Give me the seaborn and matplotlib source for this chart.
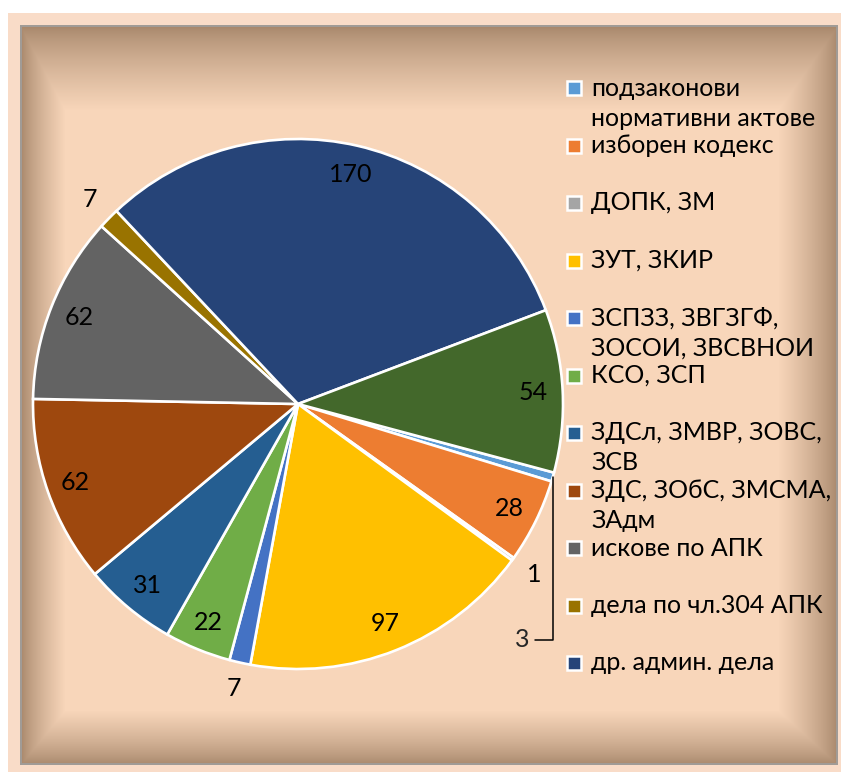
import numpy as np
import matplotlib
matplotlib.use("Agg")
import matplotlib.pyplot as plt
import seaborn as sns

# data, in wedge order (clockwise)
values = [3, 28, 1, 97, 7, 22, 31, 62, 62, 7, 170, 54]
colors = ['#5B9BD5', '#ED7D31', '#A5A5A5', '#FFC000', '#4472C4', '#70AD47',
          '#255E91', '#9E480E', '#636363', '#997300', '#264478', '#43682B']
# legend entries (the 12th, dark green slice has no visible legend entry)
legend_labels = ['подзаконови\nнормативни актове', 'изборен кодекс', 'ДОПК, ЗМ',
                 'ЗУТ, ЗКИР', 'ЗСПЗЗ, ЗВГЗГФ,\nЗОСОИ, ЗВСВНОИ', 'КСО, ЗСП',
                 'ЗДСл, ЗМВР, ЗОВС,\nЗСВ', 'ЗДС, ЗОбС, ЗМСМА,\nЗАдм', 'искове по АПК',
                 'дела по чл.304 АПК', 'др. админ. дела']

sns.set_theme(style='white')
plt.rcParams['font.family'] = ['Lato', 'DejaVu Sans']

W, H = 841, 772
fig = plt.figure(figsize=(W / 100, H / 100), dpi=100)


def px(x, y):
    # pixel (from top-left) -> figure fraction
    return x / W, 1 - y / H


# background: white margin, peach frame, vignetted panel
bg = np.ones((H, W, 3))
peach = np.array([249, 220, 200]) / 255
bg[13:, 8:] = peach
yy, xx = np.mgrid[0:H, 0:W]
x0, x1, y0, y1 = 20, 838, 25, 765
t = np.minimum.reduce([(xx - x0) / 45.0, (x1 - xx) / 60.0,
                       (yy - y0) / 85.0, (y1 - yy) / 55.0])
t = np.clip(t, 0, 1) ** 0.75
edge = np.array([164, 132, 104]) / 255
centre = np.array([248, 214, 186]) / 255
panel = edge + (centre - edge) * t[..., None]
inside = (xx >= x0) & (xx < x1) & (yy >= y0) & (yy < y1)
bg[inside] = panel[inside]
border = inside & ((xx - x0 < 2) | (x1 - xx <= 2) | (yy - y0 < 2) | (y1 - yy <= 2))
bg[border] = np.array([160, 155, 150]) / 255
bax = fig.add_axes([0, 0, 1, 1])
bax.imshow(bg, aspect='auto', interpolation='nearest')
bax.axis('off')

# pie
cx, cy, r = 298, 404, 265
left, top = px(cx - r, cy - r)
ax = fig.add_axes([left, top - 2 * r / H, 2 * r / W, 2 * r / H])
wedges, _ = ax.pie(values, colors=sns.color_palette(colors), startangle=-15,
                   counterclock=False, radius=1,
                   wedgeprops=dict(edgecolor='white', linewidth=1.9))
ax.set_xlim(-1, 1)
ax.set_ylim(-1, 1)
ax.set_aspect('equal')
ax.axis('off')

for i, (w, v) in enumerate(zip(wedges, values)):
    mid = np.deg2rad((w.theta1 + w.theta2) / 2)
    if i == 0:
        ax.annotate(str(v), xy=(np.cos(mid), np.sin(mid)), xytext=(0.875, -0.89),
                    ha='right', va='center', fontsize=18,
                    arrowprops=dict(arrowstyle='-', color='black', lw=1.1,
                                    connectionstyle='angle,angleA=0,angleB=90',
                                    shrinkA=1, shrinkB=0))
        continue
    d = 1.1 if v < 10 else 0.89
    ax.text(d * np.cos(mid), d * np.sin(mid), str(v), ha='center', va='center',
            fontsize=18, color='black')

# legend
for i, lab in enumerate(legend_labels):
    y = 88 + 57.5 * i
    mx, my = px(574, y)
    fig.patches.append(plt.Rectangle((mx - 7 / W, my - 7 / H), 14 / W, 14 / H,
                                     transform=fig.transFigure, figure=fig,
                                     facecolor=colors[i], edgecolor='white', lw=1.8))
    for k, line in enumerate(lab.split('\n')):
        tx, ty = px(591, y + 30 * k)
        fig.text(tx, ty, line, ha='left', va='center', fontsize=18, color='black')

fig.savefig('out.png', dpi=100)
